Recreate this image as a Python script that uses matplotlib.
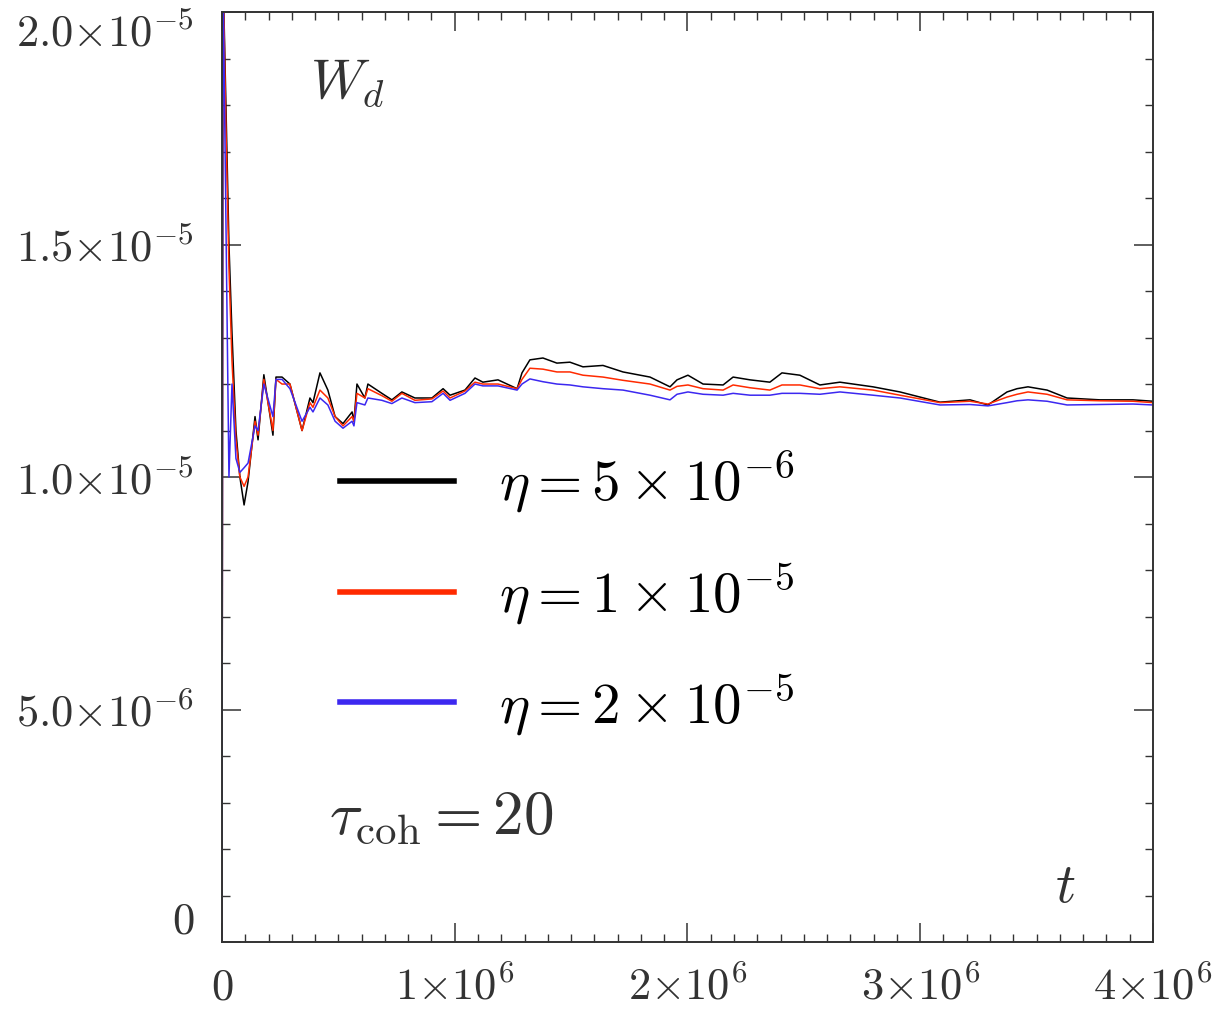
import matplotlib
matplotlib.use("Agg")
import matplotlib.pyplot as plt
from matplotlib.lines import Line2D
from matplotlib.ticker import MultipleLocator, FixedLocator, FixedFormatter
import numpy as np

plt.rcParams['mathtext.fontset'] = 'cm'
plt.rcParams['font.family'] = 'serif'
plt.rcParams['font.serif'] = ['DejaVu Serif']

# time (units of 1e6) and W_d (units of 1e-5)
t_vals = [0, 0.004, 0.017, 0.030, 0.043, 0.060, 0.077, 0.095, 0.112, 0.142,
          0.155, 0.180, 0.219, 0.232, 0.258, 0.292, 0.344, 0.378, 0.391, 0.421,
          0.455, 0.486, 0.520, 0.559, 0.567, 0.580, 0.614, 0.627, 0.687, 0.730,
          0.773, 0.829, 0.902, 0.950, 0.980, 1.044, 1.087, 1.121, 1.186, 1.268,
          1.289, 1.323, 1.379, 1.439, 1.495, 1.551, 1.637, 1.723, 1.839, 1.925,
          1.955, 2.002, 2.067, 2.153, 2.196, 2.269, 2.354, 2.406, 2.483, 2.569,
          2.655, 2.797, 2.913, 3.085, 3.214, 3.291, 3.373, 3.416, 3.463, 3.545,
          3.631, 3.772, 3.914, 4.0]

w_eta_5e6 = [0, 2.1, 1.80, 1.50, 1.31, 1.10, 1.00, 0.94, 0.99, 1.13,
             1.08, 1.22, 1.09, 1.215, 1.215, 1.20, 1.10, 1.17, 1.16, 1.224,
             1.187, 1.13, 1.115, 1.14, 1.12, 1.20, 1.17, 1.20, 1.18, 1.166,
             1.183, 1.17, 1.17, 1.19, 1.176, 1.187, 1.213, 1.204, 1.209, 1.19,
             1.224, 1.252, 1.256, 1.245, 1.247, 1.237, 1.24, 1.226, 1.215, 1.194,
             1.209, 1.219, 1.20, 1.198, 1.215, 1.209, 1.204, 1.224, 1.219, 1.198,
             1.204, 1.194, 1.183, 1.161, 1.166, 1.155, 1.183, 1.19, 1.194, 1.187,
             1.17, 1.166, 1.166, 1.163]

w_eta_1e5 = [0, 2.1, 1.75, 1.45, 1.25, 1.08, 1.00, 0.98, 1.00, 1.12,
             1.09, 1.21, 1.10, 1.21, 1.20, 1.20, 1.10, 1.16, 1.15, 1.187,
             1.17, 1.13, 1.11, 1.13, 1.12, 1.18, 1.17, 1.19, 1.175, 1.163,
             1.18, 1.165, 1.168, 1.185, 1.17, 1.185, 1.204, 1.20, 1.20, 1.19,
             1.21, 1.234, 1.232, 1.226, 1.226, 1.219, 1.215, 1.208, 1.20, 1.187,
             1.195, 1.198, 1.19, 1.187, 1.198, 1.192, 1.187, 1.198, 1.198, 1.19,
             1.194, 1.187, 1.176, 1.16, 1.163, 1.157, 1.172, 1.178, 1.183, 1.178,
             1.166, 1.164, 1.163, 1.16]

w_eta_2e5 = [0, 2.1, 1.55, 1.00, 1.20, 1.04, 1.01, 1.02, 1.03, 1.11,
             1.10, 1.20, 1.13, 1.21, 1.21, 1.19, 1.12, 1.15, 1.14, 1.17,
             1.155, 1.12, 1.105, 1.12, 1.11, 1.16, 1.155, 1.17, 1.165, 1.158,
             1.17, 1.16, 1.162, 1.18, 1.165, 1.18, 1.20, 1.196, 1.196, 1.187,
             1.20, 1.211, 1.205, 1.20, 1.198, 1.194, 1.19, 1.187, 1.176, 1.166,
             1.178, 1.183, 1.178, 1.176, 1.18, 1.176, 1.176, 1.18, 1.18, 1.178,
             1.183, 1.176, 1.17, 1.155, 1.156, 1.153, 1.16, 1.164, 1.166, 1.163,
             1.155, 1.156, 1.157, 1.155]

labels = [r'$\eta = 5 \times 10^{-6}$', r'$\eta = 1 \times 10^{-5}$',
          r'$\eta = 2 \times 10^{-5}$']
colors = ['black', '#ff2a00', '#3c28f0']

x_ticks = [0, 1e6, 2e6, 3e6, 4e6]
x_labels = ['$0$', r'$1{\times}10^6$', r'$2{\times}10^6$', r'$3{\times}10^6$', r'$4{\times}10^6$']
y_ticks = [0, 5e-6, 1e-5, 1.5e-5, 2e-5]
y_labels = ['$0$', r'$5.0{\times}10^{-6}$', r'$1.0{\times}10^{-5}$',
            r'$1.5{\times}10^{-5}$', r'$2.0{\times}10^{-5}$']

fig = plt.figure(figsize=(12.25, 10.11), dpi=100)
ax = fig.add_axes([0.1812, 0.0682, 0.76, 0.9199])

t = np.array(t_vals) * 1e6
for w, c in zip([w_eta_5e6, w_eta_1e5, w_eta_2e5], colors):
    ax.plot(t, np.array(w) * 1e-5, color=c, lw=1.1)

ax.set_xlim(0, 4e6)
ax.set_ylim(0, 2e-5)

ax.xaxis.set_major_locator(FixedLocator(x_ticks))
ax.xaxis.set_major_formatter(FixedFormatter(x_labels))
ax.xaxis.set_minor_locator(MultipleLocator(1e5))
ax.yaxis.set_major_locator(FixedLocator(y_ticks))
ax.yaxis.set_major_formatter(FixedFormatter(y_labels))
ax.yaxis.set_minor_locator(MultipleLocator(1e-6))

ax.tick_params(which='both', direction='in', top=True, right=True,
               color='#333333', labelcolor='#333333', labelsize=32)
ax.tick_params(which='major', length=13.5, width=1.1)
ax.tick_params(which='minor', length=5.5, width=1.0)
ax.tick_params(axis='x', pad=17)
ax.tick_params(axis='y', pad=20)
for s in ax.spines.values():
    s.set_color('#333333')
    s.set_linewidth(1.4)

ylab = ax.get_yticklabels()
ylab[0].set_verticalalignment('bottom')
ylab[-1].set_verticalalignment('top')

handles = [Line2D([], [], color=c, lw=4) for c in colors]
ax.legend(handles, labels, loc='center left', bbox_to_anchor=(0.127, 0.375),
          frameon=False, fontsize=41, handlelength=2.0, handletextpad=0.78,
          labelspacing=0.8, borderpad=0, borderaxespad=0)

ax.text(0.095, 0.925, r'$W_d$', transform=ax.transAxes, fontsize=40,
        color='#333333', va='center')
ax.text(0.115, 0.135, r'$\tau_{\rm coh} = 20$', transform=ax.transAxes,
        fontsize=44, color='#333333', va='center')
ax.text(0.895, 0.06, r'$t$', transform=ax.transAxes, fontsize=40,
        color='#333333', va='center')

fig.savefig('out.png', dpi=100)
